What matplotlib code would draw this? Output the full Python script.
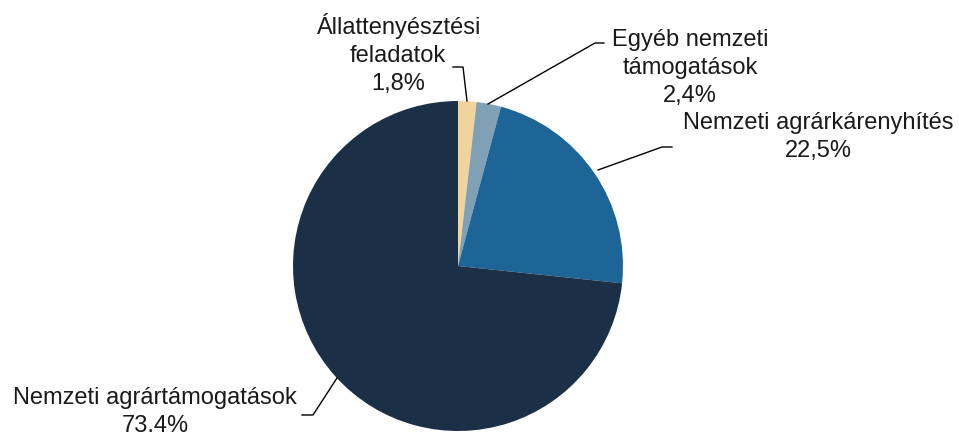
import matplotlib.pyplot as plt

labels = ['Állattenyésztési\nfeladatok', 'Egyéb nemzeti\ntámogatások',
          'Nemzeti agrárkárenyhítés', 'Nemzeti agrártámogatások']
values = [1.8, 2.4, 22.5, 73.4]
colors = ['#F2D39B', '#80A0B5', '#1D6497', '#1B3046']

plt.rcParams['font.family'] = ['Liberation Sans', 'DejaVu Sans']

W, H = 959, 432
fig = plt.figure(figsize=(W / 100, H / 100), dpi=100)
ax = fig.add_axes([0, 0, 1, 1])

# pie centre / radius in pixel units (y measured from the top)
cx, cy, r = 458, 266, 165
ax.pie(values, colors=colors, startangle=90, counterclock=False,
       center=(cx, H - cy), radius=r,
       wedgeprops=dict(linewidth=0))

# pie() sets its own limits, so fix them afterwards
ax.set_xlim(0, W)
ax.set_ylim(0, H)
ax.set_aspect('equal')
ax.axis('off')

# label text position (x, y from top) and leader line points
label_pos = [(398, 54), (690, 68), (818, 137), (155, 412)]
leaders = [
    [(467, 101), (463, 67), (453, 67)],
    [(488, 104), (595, 43), (604, 43)],
    [(598, 170), (662, 147), (672, 147)],
    [(337, 378), (313, 415), (302, 415)],
]

for lab, v, (tx, ty), pts in zip(labels, values, label_pos, leaders):
    txt = lab + '\n' + f'{v:.1f}'.replace('.', ',') + '%'
    ax.text(tx, H - ty, txt, ha='center', va='center', fontsize=17,
            color='#1a1a1a', linespacing=1.35)
    xs = [p[0] for p in pts]
    ys = [H - p[1] for p in pts]
    ax.plot(xs, ys, color='black', lw=1, clip_on=False)

fig.savefig('out.png', dpi=100)
